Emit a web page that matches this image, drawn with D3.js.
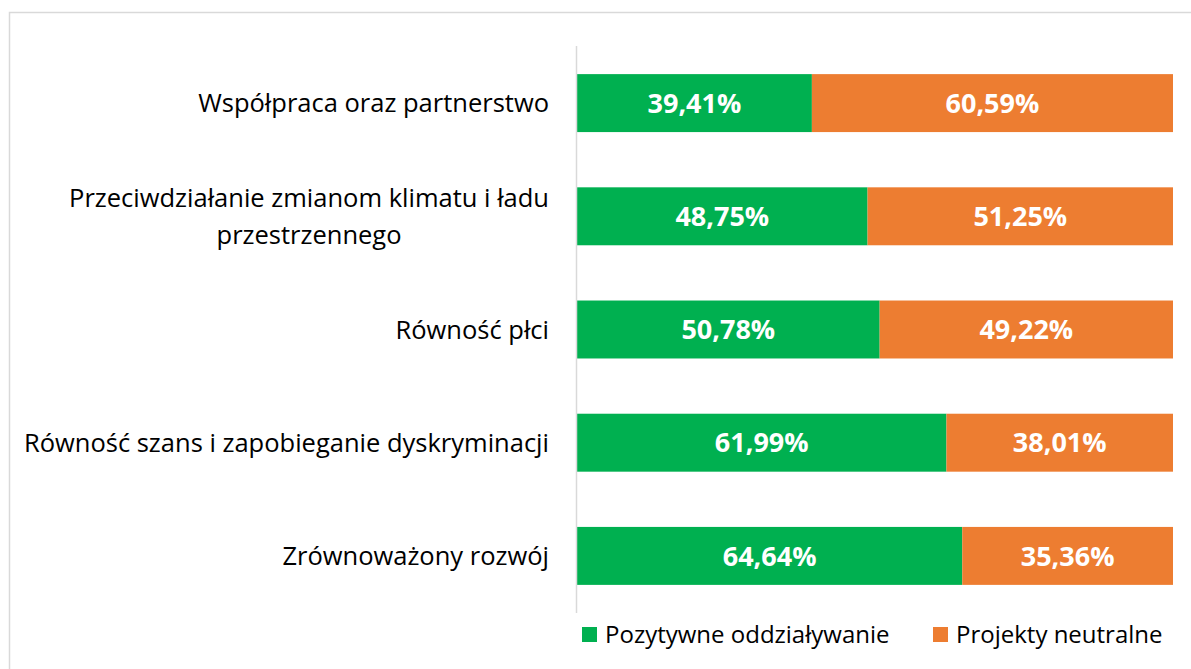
<!DOCTYPE html>
<html>
<head>
<meta charset="utf-8">
<script src="https://cdn.jsdelivr.net/npm/d3@7"></script>
<style>
  body { margin: 0; background: #fff; }
  text { font-family: "Open Sans", "Noto Sans", sans-serif; }
</style>
</head>
<body>
<div id="chart"></div>
<script>
// categories top to bottom
var categories = [
  "Współpraca oraz partnerstwo",
  "Przeciwdziałanie zmianom klimatu i ładu przestrzennego",
  "Równość płci",
  "Równość szans i zapobieganie dyskryminacji",
  "Zrównoważony rozwój"
];
var positive = [39.41, 48.75, 50.78, 61.99, 64.64];
var neutral = [60.59, 51.25, 49.22, 38.01, 35.36];
var seriesNames = ["Pozytywne oddziaływanie", "Projekty neutralne"];
var colors = ["#00b050", "#ed7d31"];

var W = 1191, H = 669;
var svg = d3.select("#chart").append("svg")
    .attr("width", W).attr("height", H);

// outer frame (goes past the right and bottom edges)
svg.append("rect")
    .attr("x", 9.5).attr("y", 12.5)
    .attr("width", 1200).attr("height", 700)
    .attr("fill", "none")
    .attr("stroke", "#d9d9d9")
    .attr("stroke-width", 1.5);

var x = d3.scaleLinear().domain([0, 100]).range([577, 1173]);
var y = d3.scaleBand().domain(categories).range([46.5, 612.5]).paddingInner(0.488).paddingOuter(0.244);

var rows = categories.map(function(c, i) {
  return { name: c, pos: positive[i], neu: neutral[i] };
});

// positive segments
svg.selectAll(".pos")
    .data(rows)
  .enter().append("rect")
    .attr("class", "pos")
    .attr("x", x(0))
    .attr("y", function(d) { return y(d.name); })
    .attr("width", function(d) { return x(d.pos) - x(0); })
    .attr("height", y.bandwidth())
    .attr("fill", colors[0]);

// neutral segments
svg.selectAll(".neu")
    .data(rows)
  .enter().append("rect")
    .attr("class", "neu")
    .attr("x", function(d) { return x(d.pos); })
    .attr("y", function(d) { return y(d.name); })
    .attr("width", function(d) { return x(d.pos + d.neu) - x(d.pos); })
    .attr("height", y.bandwidth())
    .attr("fill", colors[1]);

var fmt = function(v) { return v.toFixed(2).replace(".", ",") + "%"; };

// value labels
rows.forEach(function(d) {
  var cy = y(d.name) + y.bandwidth() / 2;
  [[0, d.pos], [d.pos, d.pos + d.neu]].forEach(function(seg, j) {
    svg.append("text")
        .attr("x", (x(seg[0]) + x(seg[1])) / 2)
        .attr("y", cy)
        .attr("dy", "0.36em")
        .attr("text-anchor", "middle")
        .attr("fill", "#fff")
        .style("font-weight", "bold")
        .style("font-size", "27px")
        .text(fmt(j === 0 ? d.pos : d.neu));
  });
});

// y axis line
svg.append("line")
    .attr("x1", 576.5).attr("x2", 576.5)
    .attr("y1", 46).attr("y2", 613)
    .attr("stroke", "#d9d9d9")
    .attr("stroke-width", 1.5);

// category labels, the long one is split in two lines
var labelX = 549;
rows.forEach(function(d) {
  var cy = y(d.name) + y.bandwidth() / 2;
  if (d.name.indexOf("Przeciwdziałanie") === 0) {
    var t1 = svg.append("text")
        .attr("x", labelX).attr("y", cy - 18.5)
        .attr("dy", "0.36em")
        .attr("text-anchor", "end")
        .attr("fill", "#000")
        .style("font-size", "25.5px")
        .text("Przeciwdziałanie zmianom klimatu i ładu");
    var w = t1.node().getComputedTextLength();
    svg.append("text")
        .attr("x", labelX - w / 2).attr("y", cy + 18.5)
        .attr("dy", "0.36em")
        .attr("text-anchor", "middle")
        .attr("fill", "#000")
        .style("font-size", "25.5px")
        .text("przestrzennego");
  } else {
    svg.append("text")
        .attr("x", labelX).attr("y", cy)
        .attr("dy", "0.36em")
        .attr("text-anchor", "end")
        .attr("fill", "#000")
        .style("font-size", "25.5px")
        .text(d.name);
  }
});

// legend
var legendX = [582, 933];
seriesNames.forEach(function(s, i) {
  svg.append("rect")
      .attr("x", legendX[i]).attr("y", 627)
      .attr("width", 15).attr("height", 15)
      .attr("fill", colors[i]);
  svg.append("text")
      .attr("x", legendX[i] + 23).attr("y", 634)
      .attr("dy", "0.36em")
      .attr("fill", "#000")
      .style("font-size", "24px")
      .text(s);
});
</script>
</body>
</html>
